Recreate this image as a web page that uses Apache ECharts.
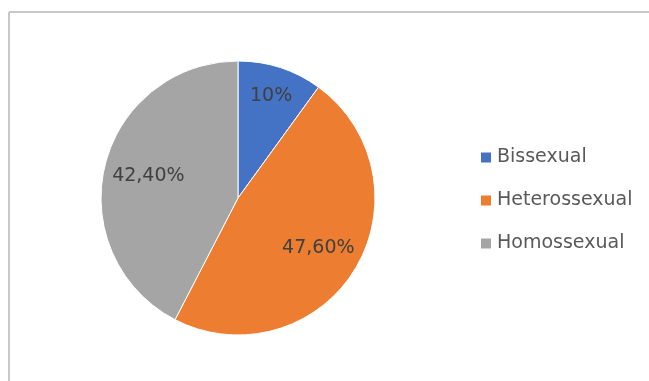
<!DOCTYPE html>
<html>
<head>
<meta charset="utf-8">
<script src="https://cdn.jsdelivr.net/npm/echarts@6/dist/echarts.min.js"></script>
<style>
  html, body { margin: 0; padding: 0; background: #fff; }
  #pieChart { width: 649px; height: 381px; }
</style>
</head>
<body>
<div id="pieChart"></div>
<script>
  // dados
  var categories = ['Bissexual', 'Heterossexual', 'Homossexual'];
  var values = [10, 47.6, 42.4];
  var colors = ['#4472C4', '#ED7D31', '#A5A5A5'];

  // posição radial dos rótulos (fração do raio), como no Excel
  var labelRadius = [0.75, 0.66, 0.645];
  var cx = 238, cy = 198, r = 137;

  function fmt(v) {
    if (Math.round(v) === v) return v + '%';
    return v.toFixed(2).replace('.', ',') + '%';
  }

  var myChart = echarts.init(document.getElementById('pieChart'));
  myChart.setOption({
    animation: false,
    color: colors,
    graphic: [
      { type: 'line', shape: { x1: 9, y1: 12, x2: 649, y2: 12 }, style: { stroke: '#c8c8c8', lineWidth: 2 } },
      { type: 'line', shape: { x1: 9, y1: 12, x2: 9, y2: 381 }, style: { stroke: '#c8c8c8', lineWidth: 2 } }
    ],
    legend: {
      orient: 'vertical',
      left: 474,
      top: 143,
      itemWidth: 12,
      itemHeight: 12,
      itemGap: 24,
      icon: 'rect',
      data: categories,
      textStyle: {
        color: '#595959',
        fontSize: 19,
        lineHeight: 19,
        fontFamily: 'DejaVu Sans'
      }
    },
    series: [{
      type: 'pie',
      center: [cx, cy],
      radius: r,
      startAngle: 90,
      clockwise: true,
      itemStyle: { borderColor: '#fff', borderWidth: 1 },
      label: {
        show: true,
        position: 'inside',
        color: '#404040',
        fontSize: 19,
        fontFamily: 'DejaVu Sans',
        formatter: function (p) { return fmt(p.value); }
      },
      labelLayout: function (p) {
        var lx = p.labelRect.x + p.labelRect.width / 2;
        var ly = p.labelRect.y + p.labelRect.height / 2;
        var k = labelRadius[p.dataIndex] / 0.5 - 1;
        return { dx: (lx - cx) * k, dy: (ly - cy) * k };
      },
      emphasis: { disabled: true },
      data: categories.map(function (c, i) {
        return { name: c, value: values[i] };
      })
    }]
  });
</script>
</body>
</html>
